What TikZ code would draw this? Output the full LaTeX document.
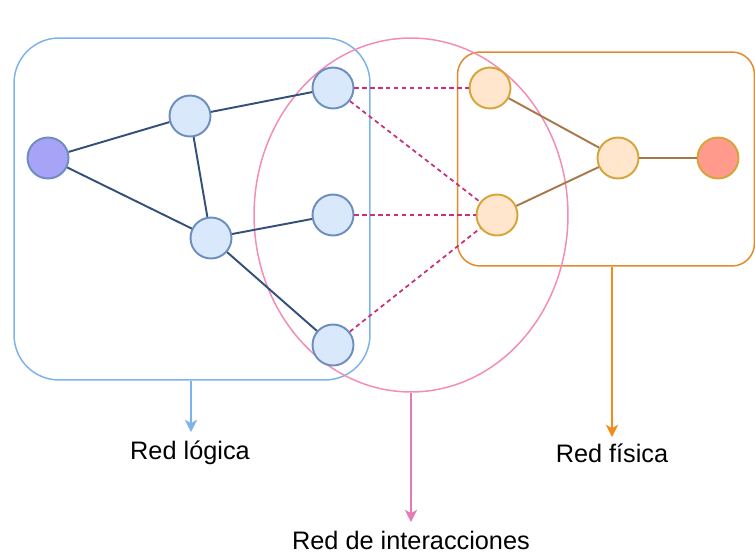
\documentclass[tikz,border=0pt]{standalone}
\usepackage{fontspec}
\setmainfont{Liberation Sans}
\usetikzlibrary{arrows.meta,shapes.geometric}
\definecolor{logdraw}{HTML}{6C8EBF}
\definecolor{logfill}{HTML}{DAE8FC}
\definecolor{srcfill}{HTML}{A7A3F6}
\definecolor{physdraw}{HTML}{D6A53A}
\definecolor{physfill}{HTML}{FFE6CC}
\definecolor{sinkfill}{HTML}{FF9A8C}
\definecolor{logedge}{HTML}{34507A}
\definecolor{physedge}{HTML}{A8784A}
\definecolor{linkedge}{HTML}{C8307C}
\definecolor{logframe}{HTML}{7EB2EC}
\definecolor{physframe}{HTML}{E58A2C}
\definecolor{interframe}{HTML}{F48CB8}
\definecolor{interarrow}{HTML}{E57AB5}
\definecolor{physarrow}{HTML}{F58A1E}
\begin{document}
\begin{tikzpicture}[x=0.02cm,y=-0.02cm,
    lnode/.style={circle,draw=logdraw,fill=logfill,line width=1.1pt,minimum size=0.82cm,inner sep=0pt},
    pnode/.style={circle,draw=physdraw,fill=physfill,line width=1.1pt,minimum size=0.82cm,inner sep=0pt},
    frame/.style={draw,line width=0.85pt,inner sep=0pt},
    label/.style={font=\fontsize{14.4}{17}\selectfont,inner sep=0pt},
    pointer/.style={line width=0.9pt,-{Stealth[length=7pt,width=7pt,inset=2pt]}}]
    \useasboundingbox (0,0) rectangle (755,552);

    % frames
    \node [frame,draw=logframe,rounded corners=0.9cm,minimum width=7.12cm,minimum height=6.84cm] (logbox) at (192,209) {};
    \node [frame,draw=physframe,rounded corners=0.45cm,minimum width=5.94cm,minimum height=4.28cm] (physbox) at (606,159) {};
    \node [frame,draw=interframe,ellipse,minimum width=6.28cm,minimum height=7.08cm] (interbox) at (411,215) {};

    % logical network
    \node [lnode,fill=srcfill] (src) at (48,158) {};
    \node [lnode] (l1) at (190,116) {};
    \node [lnode] (l2) at (211,238) {};
    \node [lnode] (l3) at (333,88) {};
    \node [lnode] (l4) at (333,215) {};
    \node [lnode] (l5) at (333,345) {};

    % physical network
    \node [pnode] (p1) at (490,88) {};
    \node [pnode] (p2) at (497,215) {};
    \node [pnode] (p3) at (618,158) {};
    \node [pnode,fill=sinkfill] (sink) at (718,158) {};

    \draw [logedge,line width=1.1pt] (src) -- (l1);
    \draw [logedge,line width=1.1pt] (src) -- (l2);
    \draw [logedge,line width=1.1pt] (l1) -- (l2);
    \draw [logedge,line width=1.1pt] (l1) -- (l3);
    \draw [logedge,line width=1.1pt] (l2) -- (l4);
    \draw [logedge,line width=1.1pt] (l2) -- (l5);

    \draw [physedge,line width=1.1pt] (p1) -- (p3);
    \draw [physedge,line width=1.1pt] (p2) -- (p3);
    \draw [physedge,line width=1.1pt] (p3) -- (sink);

    \draw [linkedge,line width=1pt,dash pattern=on 2.5pt off 2pt] (l3) -- (p1);
    \draw [linkedge,line width=1pt,dash pattern=on 2.5pt off 2pt] (l3) -- (p2);
    \draw [linkedge,line width=1pt,dash pattern=on 2.5pt off 2pt] (l4) -- (p2);
    \draw [linkedge,line width=1pt,dash pattern=on 2.5pt off 2pt] (l5) -- (p2);

    % labels
    \node [label] (loglabel) at (190,453) {Red lógica};
    \node [label] (physlabel) at (612,453) {Red física};
    \node [label] (interlabel) at (411,540) {Red de interacciones};

    \coordinate (logtip) at (191,432);
    \coordinate (phystip) at (612,437);
    \coordinate (intertip) at (411,522);
    \draw [pointer,logframe] (logbox.south -| logtip) -- (logtip);
    \draw [pointer,physarrow] (physbox.south -| phystip) -- (phystip);
    \draw [pointer,interarrow] (interbox.south) -- (intertip);
\end{tikzpicture}
\end{document}
